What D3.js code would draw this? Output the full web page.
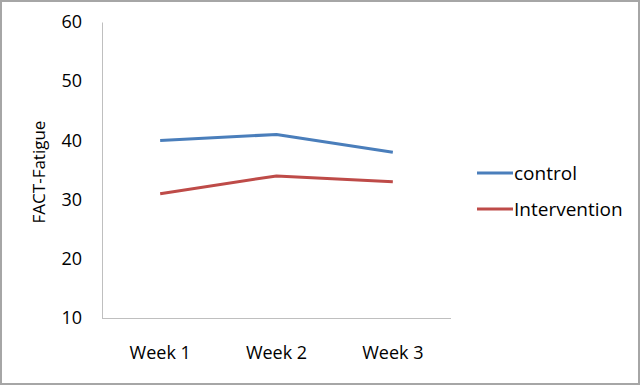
<!DOCTYPE html>
<html>
<head>
<meta charset="utf-8">
<script src="https://cdn.jsdelivr.net/npm/d3@7"></script>
<style>
  html, body { margin: 0; padding: 0; background: #fff; }
  svg { display: block; }
</style>
</head>
<body>
<script>
const categories = ["Week 1", "Week 2", "Week 3"];
const seriesNames = ["control", "Intervention"];
const controlValues = [40, 41, 38];
const interventionValues = [31, 34, 33];
const yTicks = [10, 20, 30, 40, 50, 60];
const colors = ["#4a7ebb", "#be4b48"];

(function () {
const W = 640, H = 385;
const svg = d3.select("body").append("svg").attr("width", W).attr("height", H);

svg.append("rect").attr("x", 1).attr("y", 1).attr("width", W - 2).attr("height", H - 2)
  .attr("fill", "#fff").attr("stroke", "#a6a6a6").attr("stroke-width", 2);

const mLeft = 102, mRight = 451, mTop = 22, mBottom = 318;
const x = d3.scaleBand().domain(categories).range([mLeft, mRight]);
const y = d3.scaleLinear().domain([10, 60]).range([mBottom, mTop]);

const font = "'Open Sans', sans-serif";

// axes
const yAxis = svg.append("g").attr("transform", `translate(${mLeft},0)`)
  .call(d3.axisLeft(y).tickValues(yTicks).tickSize(0).tickPadding(20));
yAxis.select(".domain").attr("stroke", "#bfbfbf").attr("stroke-width", 1);
yAxis.selectAll("text").attr("font-family", font).attr("font-size", 18).attr("fill", "#000");

const xAxis = svg.append("g").attr("transform", `translate(0,${mBottom})`)
  .call(d3.axisBottom(x).tickSize(0).tickPadding(28));
xAxis.select(".domain").attr("stroke", "#bfbfbf").attr("stroke-width", 1).attr("d", `M${mLeft},0.5H${mRight}`);
xAxis.selectAll("text").attr("font-family", font).attr("font-size", 18).attr("fill", "#000");

// y title
svg.append("text")
  .attr("transform", `translate(45,${(mTop + mBottom) / 2 + 2}) rotate(-90)`)
  .attr("text-anchor", "middle")
  .attr("font-family", font).attr("font-size", 17).attr("fill", "#000")
  .text("FACT-Fatigue");

// lines
const allSeries = [controlValues, interventionValues];
const line = d3.line()
  .x((d, i) => x(categories[i]) + x.bandwidth() / 2)
  .y(d => y(d));
allSeries.forEach((vals, si) => {
  svg.append("path").datum(vals)
    .attr("d", line)
    .attr("fill", "none")
    .attr("stroke", colors[si])
    .attr("stroke-width", 3)
    .attr("stroke-linejoin", "round");
});

// legend
const legendY = [173, 209];
seriesNames.forEach((name, i) => {
  svg.append("line").attr("x1", 477).attr("x2", 513)
    .attr("y1", legendY[i]).attr("y2", legendY[i])
    .attr("stroke", colors[i]).attr("stroke-width", 3);
  svg.append("text").attr("x", 514).attr("y", legendY[i])
    .attr("dy", "0.35em")
    .attr("font-family", font).attr("font-size", 19).attr("fill", "#000")
    .text(name);
});
})();
</script>
</body>
</html>
